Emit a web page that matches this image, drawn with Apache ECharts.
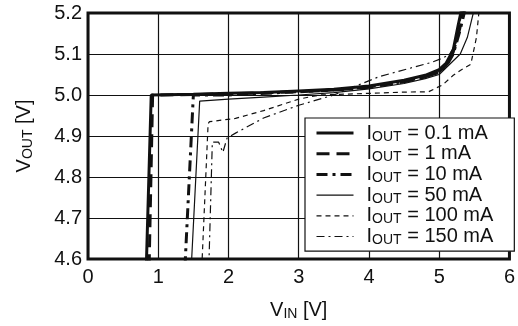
<!DOCTYPE html>
<html>
<head>
<meta charset="utf-8">
<script src="https://cdn.jsdelivr.net/npm/echarts@6/dist/echarts.min.js"></script>
<style>
  html, body { margin: 0; padding: 0; background: #fff; }
  #chart { width: 518px; height: 326px; }
</style>
</head>
<body>
<div id="chart"></div>
<script>
// V_OUT vs V_IN, one pair of arrays per load current
var labels = ['0.1 mA', '1 mA', '10 mA', '50 mA', '100 mA', '150 mA'];

var vin01  = [0.83, 0.90, 1.5, 2.0, 2.5, 3.0, 3.5, 4.0, 4.5, 4.8, 5.0, 5.1, 5.2, 5.27, 5.32];
var vout01 = [4.58, 5.0, 5.002, 5.004, 5.006, 5.01, 5.014, 5.022, 5.036, 5.048, 5.062, 5.078, 5.11, 5.17, 5.21];

var vin1  = [0.87, 0.92, 1.5, 2.0, 2.5, 3.0, 3.5, 4.0, 4.5, 4.8, 5.0, 5.1, 5.2, 5.29, 5.35];
var vout1 = [4.58, 5.0, 5.001, 5.003, 5.005, 5.008, 5.012, 5.019, 5.032, 5.044, 5.057, 5.073, 5.105, 5.16, 5.21];

var vin10  = [1.38, 1.50, 2.0, 2.5, 3.0, 3.5, 4.0, 4.5, 4.8, 5.0, 5.1, 5.2, 5.3, 5.37];
var vout10 = [4.58, 5.0, 5.0, 5.004, 5.008, 5.012, 5.02, 5.033, 5.045, 5.055, 5.07, 5.1, 5.16, 5.21];

var vin50  = [1.47, 1.59, 2.0, 2.5, 3.0, 3.5, 4.0, 4.5, 4.8, 5.0, 5.15, 5.3, 5.4, 5.5];
var vout50 = [4.58, 4.985, 4.99, 4.995, 5.0, 5.006, 5.015, 5.028, 5.04, 5.05, 5.075, 5.1, 5.14, 5.21];

var vin100  = [1.62, 1.71, 1.73, 2.1, 2.5, 3.0, 3.3, 4.0, 4.5, 4.85, 5.05, 5.2, 5.3, 5.45, 5.53, 5.57];
var vout100 = [4.58, 4.93, 4.935, 4.943, 4.962, 4.99, 5.0, 5.004, 5.007, 5.008, 5.025, 5.048, 5.06, 5.075, 5.14, 5.21];

var vin150  = [1.72, 1.77, 1.86, 1.92, 1.98, 2.1, 2.5, 3.0, 3.5, 4.15, 4.9, 5.05, 5.15, 5.25, 5.33];
var vout150 = [4.58, 4.885, 4.885, 4.86, 4.895, 4.907, 4.944, 4.975, 5.0, 5.045, 5.08, 5.09, 5.1, 5.13, 5.21];

var xs = [vin01, vin1, vin10, vin50, vin100, vin150];
var ys = [vout01, vout1, vout10, vout50, vout100, vout150];

var lineStyles = [
  { width: 3, type: 'solid' },
  { width: 3, type: [13, 7] },
  { width: 3, type: [11, 5, 3, 5] },
  { width: 1.2, type: 'solid' },
  { width: 1.2, type: [5, 4] },
  { width: 1.2, type: [8, 4, 2, 4] }
];

var font = 'Liberation Sans, Arial, sans-serif';
var rich = {
  v: { fontSize: 20, lineHeight: 22, color: '#111', fontFamily: font },
  s: { fontSize: 14, lineHeight: 14, verticalAlign: 'bottom', color: '#111', fontFamily: font }
};

var series = labels.map(function (name, k) {
  return {
    name: name,
    type: 'line',
    symbol: 'none',
    animation: false,
    lineStyle: { color: '#111', width: lineStyles[k].width, type: lineStyles[k].type },
    itemStyle: { color: '#111' },
    data: xs[k].map(function (x, i) { return [x, ys[k][i]]; })
  };
});

var legendData = labels.map(function (name, k) {
  return {
    name: name,
    lineStyle: { width: lineStyles[k].width, type: lineStyles[k].type, color: '#111' }
  };
});

var myChart = echarts.init(document.getElementById('chart'));
myChart.setOption({
  animation: false,
  grid: {
    left: 88, right: 8, top: 13, bottom: 67,
    show: true, borderColor: '#111', borderWidth: 3, backgroundColor: 'transparent'
  },
  legend: {
    orient: 'vertical',
    left: 305, top: 118,
    itemWidth: 37, itemHeight: 14, itemGap: 0,
    padding: [5, 21, 4, 10],
    backgroundColor: '#fff',
    borderColor: '#111', borderWidth: 1.2, borderRadius: 0,
    itemStyle: { opacity: 0, borderWidth: 0 },
    data: legendData,
    formatter: function (name) {
      return '{v|I}{s|OUT}{v| = ' + name + '}';
    },
    textStyle: {
      padding: [0, 0, 0, 8],
      rich: {
        v: { fontSize: 20, lineHeight: 21.4, color: '#111', fontFamily: font },
        s: { fontSize: 14, lineHeight: 14, verticalAlign: 'bottom', color: '#111', fontFamily: font }
      }
    }
  },
  xAxis: {
    type: 'value', min: 0, max: 6, interval: 1,
    name: '{v|V}{s|IN}{v| [V]}',
    nameLocation: 'middle', nameGap: 40,
    nameTextStyle: { rich: rich },
    axisLine: { show: false },
    axisTick: { show: false },
    axisLabel: { fontSize: 20, color: '#111', fontFamily: font, margin: 8 },
    splitLine: { show: true, lineStyle: { color: '#111', width: 1.2 } }
  },
  yAxis: {
    type: 'value', min: 4.6, max: 5.2, interval: 0.1,
    name: '{v|V}{s|OUT}{v| [V]}',
    nameLocation: 'middle', nameGap: 53,
    nameTextStyle: { rich: rich },
    axisLine: { show: false },
    axisTick: { show: false },
    axisLabel: {
      fontSize: 20, color: '#111', fontFamily: font, margin: 6,
      formatter: function (v) { return v.toFixed(1); }
    },
    splitLine: { show: true, lineStyle: { color: '#111', width: 1.2 } }
  },
  series: series
});
</script>
</body>
</html>
